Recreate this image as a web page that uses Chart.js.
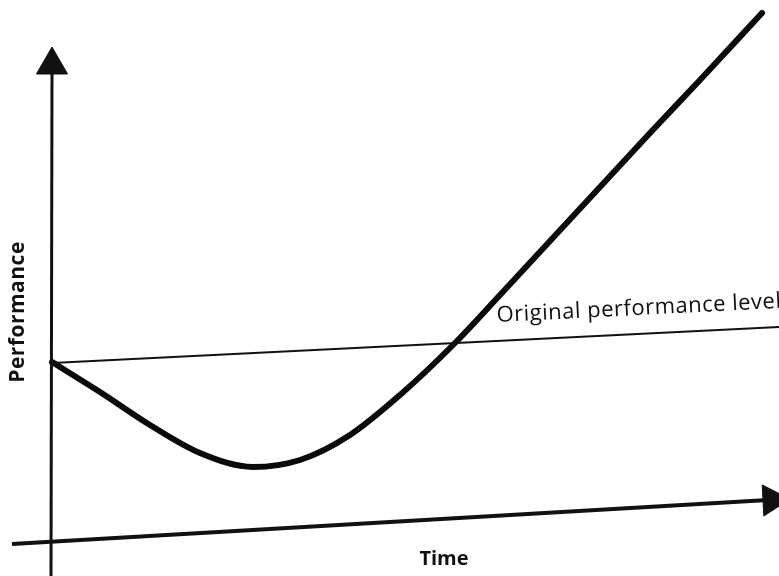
<!DOCTYPE html>
<html>
<head>
<meta charset="utf-8">
<script src="https://cdn.jsdelivr.net/npm/chart.js@4"></script>
<style>
  html, body { margin: 0; padding: 0; background: #fff; }
  #wrap { width: 779px; height: 576px; }
</style>
</head>
<body>
<div id="wrap"><canvas id="jcurve"></canvas></div>
<script>
// values (x = time, y = performance, in the picture's own units)
const curveX = [52, 100, 150, 200, 253, 300, 350, 400, 455, 500, 550, 600, 650, 700, 762];
const curveY = [362, 392, 425, 453, 467, 460, 435, 395, 343, 295, 241, 187, 133, 80, 13];

const levelX = [52, 779];
const levelY = [363, 327];

const timeAxisX = [12, 768];
const timeAxisY = [544, 500];

const perfAxisX = [51, 52];
const perfAxisY = [576, 70];

const labels = ["Performance", "Time", "Original performance level"];

function pts(xs, ys) {
  return xs.map((x, i) => ({ x: x, y: ys[i] }));
}

// text labels drawn on top
const labelPlugin = {
  id: 'labels',
  afterDraw(chart) {
    const ctx = chart.ctx;
    const sx = chart.scales.x, sy = chart.scales.y;
    ctx.save();
    ctx.fillStyle = '#111';

    // y axis title
    ctx.save();
    ctx.translate(sx.getPixelForValue(18), sy.getPixelForValue(312));
    ctx.rotate(-Math.PI / 2);
    ctx.font = 'bold 21px "Open Sans"';
    ctx.letterSpacing = '0.5px';
    ctx.textAlign = 'center';
    ctx.textBaseline = 'middle';
    ctx.fillText(labels[0], 0, 0);
    ctx.restore();

    // x axis title
    ctx.font = 'bold 20px "Open Sans"';
    ctx.textAlign = 'center';
    ctx.textBaseline = 'middle';
    ctx.fillText(labels[1], sx.getPixelForValue(444), sy.getPixelForValue(559));

    // level label, following the slope of the line
    ctx.save();
    ctx.translate(sx.getPixelForValue(497), sy.getPixelForValue(322));
    ctx.rotate(-0.05);
    ctx.font = '22px "Open Sans"';
    ctx.letterSpacing = '0.5px';
    ctx.textAlign = 'left';
    ctx.textBaseline = 'alphabetic';
    ctx.fillText(labels[2], 0, 0);
    ctx.restore();

    ctx.restore();
  }
};

new Chart(document.getElementById('jcurve'), {
  type: 'scatter',
  data: {
    datasets: [
      {
        label: 'Performance axis',
        data: pts(perfAxisX, perfAxisY),
        showLine: true,
        borderColor: '#111',
        borderWidth: 3,
        pointRadius: 0
      },
      {
        label: 'Time axis',
        data: pts(timeAxisX, timeAxisY),
        showLine: true,
        borderColor: '#111',
        borderWidth: 4,
        pointRadius: 0
      },
      {
        label: 'Arrow up',
        data: [{ x: 52, y: 65 }],
        pointStyle: 'triangle',
        pointRadius: 18,
        rotation: 0,
        backgroundColor: '#111',
        borderColor: '#111',
        borderWidth: 1
      },
      {
        label: 'Arrow right',
        data: [{ x: 772, y: 500 }],
        pointStyle: 'triangle',
        pointRadius: 18,
        rotation: 87,
        backgroundColor: '#111',
        borderColor: '#111',
        borderWidth: 1
      },
      {
        label: 'Original performance level',
        data: pts(levelX, levelY),
        showLine: true,
        borderColor: '#111',
        borderWidth: 2,
        pointRadius: 0
      },
      {
        label: 'Performance',
        data: pts(curveX, curveY),
        showLine: true,
        cubicInterpolationMode: 'monotone',
        borderColor: '#0a0a0a',
        borderWidth: 6,
        borderCapStyle: 'round',
        pointRadius: 0
      }
    ]
  },
  options: {
    responsive: true,
    maintainAspectRatio: false,
    animation: false,
    layout: { padding: 0, autoPadding: false },
    plugins: {
      legend: { display: false },
      tooltip: { enabled: false }
    },
    scales: {
      x: { type: 'linear', min: 0, max: 779, display: false },
      y: { type: 'linear', min: 0, max: 576, reverse: true, display: false }
    }
  },
  plugins: [labelPlugin]
});
</script>
</body>
</html>
